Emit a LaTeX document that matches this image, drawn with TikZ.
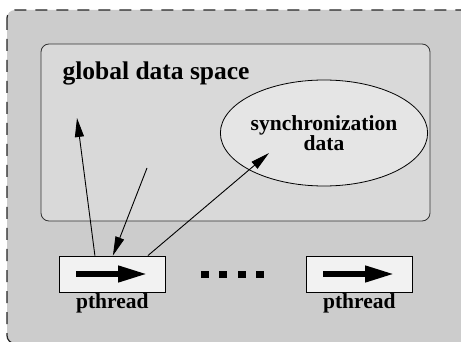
\documentclass[tikz,border=0pt]{standalone}
\usepackage{fontspec}
\setmainfont{Liberation Serif}
\usepackage{tikz}
\usetikzlibrary{arrows.meta,calc,positioning,shapes.geometric}

\definecolor{outergray}{gray}{0.80}
\definecolor{spacegray}{gray}{0.85}
\definecolor{syncgray}{gray}{0.90}
\definecolor{threadgray}{gray}{0.95}

\begin{document}
\begin{tikzpicture}[x=1pt,y=-1pt,>={Triangle[length=19pt,width=9pt]}]
			\tikzset{
				threadbox/.style={draw, line width=0.8pt, fill=threadgray, minimum width=106pt, minimum height=36pt, inner sep=0pt},
				threadlabel/.style={anchor=base, font=\fontsize{21.5}{18}\selectfont\bfseries}
			}
			\def\DotStep{18.5}

			\useasboundingbox (0,0) rectangle (461,342);
			\clip (0,0) rectangle (461,342);
			\fill[white] (0,0) rectangle (461,342);

			% process box, cut off at right and bottom
			\draw[draw=black!85, dash pattern=on 12pt off 9pt, line width=1.2pt, fill=outergray, rounded corners=8pt] (7,10) rectangle (480,343.5);

			\node (space) [draw=black!80, line width=0.8pt, fill=spacegray, rounded corners=8pt, minimum width=389pt, minimum height=177pt] at (235.5,132.5) {};
			\node (title) [anchor=base west, font=\fontsize{25.5}{30}\selectfont\bfseries] at (59,80) {global data space};

			\node (sync) [ellipse, draw, line width=0.8pt, fill=syncgray, minimum width=176pt, minimum height=106pt, inner sep=0pt, align=center, font=\fontsize{21.5}{17.5}\selectfont\bfseries] at (324,133) {synchronization\\data};

			\node (t1) [threadbox] at (112.3,274) {};
			\node (t2) [threadbox] at (359.3,274) {};
			\node (l1) [threadlabel] at ($(t1.south)+(0,16)$) {pthread};
			\node (l2) [threadlabel] at ($(t2.south)+(0,16)$) {pthread};

			\draw[line width=6.5pt, -{Triangle[length=30pt,width=15pt]}] ($(t1.west)+(17.5,0)$) -- ($(t1.east)+(-17.5,0)$);
			\draw[line width=6.5pt, -{Triangle[length=30pt,width=15pt]}] ($(t2.west)+(17.5,0)$) -- ($(t2.east)+(-17.5,0)$);

			\foreach \i in {0,...,3}
				\fill ($(t1.east)+({35+\DotStep*\i},-3.5)$) rectangle +(8,7);

			\coordinate (upend) at (77,118);
			\coordinate (downstart) at (147,168);
			\coordinate (synctip) at ($(sync.center)+(-55,20)$);

			\draw[->, line width=0.9pt] ([xshift=36pt]t1.north west) -- (upend);
			\draw[->, line width=0.9pt] (downstart) -- ([xshift=54pt]t1.north west);
			\draw[->, line width=0.9pt] ([xshift=89pt]t1.north west) -- (synctip);
		\end{tikzpicture}
\end{document}
